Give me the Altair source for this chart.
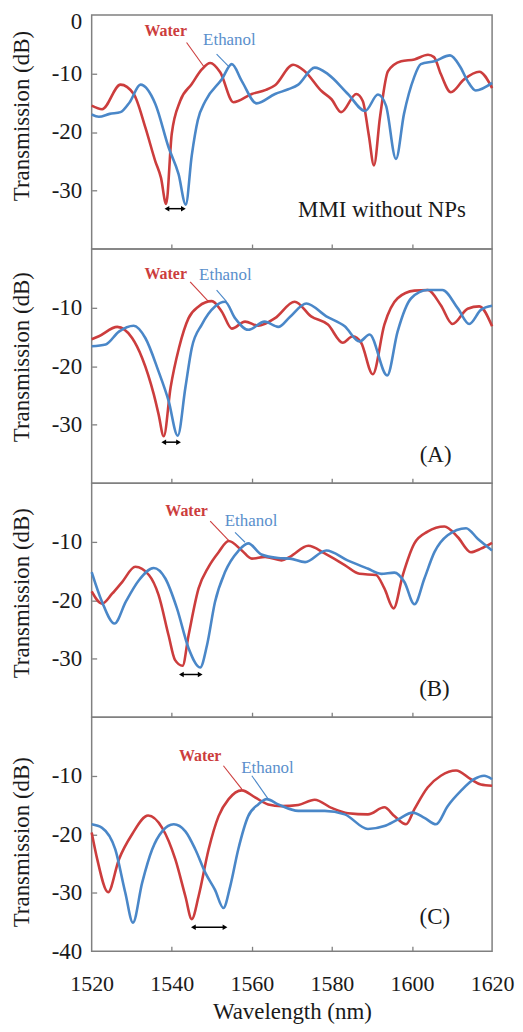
import altair as alt
import pandas as pd

FONT = "Liberation Serif"
RED = "#CC3D3D"
BLUE = "#4A87C8"
ETH_TEXT = "#5A8FCC"
FRAME = "#808080"
INK = "#1a1a1a"

X_LABEL_VALUES = [1520, 1540, 1560, 1580, 1600, 1620]
X_INNER_TICKS = [1540, 1560, 1580, 1600]
Y_INNER_TICKS = [-10, -20, -30]

# ---------------- Panel 1: MMI without NPs ----------------
P1_WATER_X = [1520, 1522.6, 1527.2, 1530.5, 1533.4, 1535.9, 1537.3, 1538.6, 1540.0, 1542.1, 1545.0, 1547.5,
              1549.6, 1552.1, 1555.4, 1560.0, 1563.5, 1565.8, 1570.3, 1573.2, 1577.4, 1579.9, 1582.3, 1586.1,
              1587.7, 1589.2, 1590.5, 1592.0, 1594.0, 1597.3, 1600.6, 1604.0, 1605.5, 1607.2, 1609.7, 1613.0,
              1616.8, 1620]
P1_WATER_Y = [-15.5, -16.1, -11.9, -13.5, -19.2, -25.0, -27.8, -32.3, -20.3, -14.7, -11.8, -9.3,
              -8.2, -9.8, -14.9, -13.5, -12.8, -12.0, -8.5, -9.6, -13.0, -14.4, -16.6, -13.5,
              -14.7, -20.5, -25.7, -17.5, -9.6, -7.9, -7.6, -6.8, -7.2, -10.1, -13.2, -11.0,
              -9.7, -12.5]
P1_ETH_X = [1520, 1521.8, 1524.5, 1527.2, 1529.5, 1532.2, 1535.9, 1539.2, 1541.7, 1543.5, 1545.0, 1546.5,
            1548.4, 1552.5, 1555.0, 1557.5, 1561.2, 1565.8, 1569.1, 1571.6, 1575.7, 1579.0, 1584.0, 1588.3,
            1591.5, 1593.5, 1596.0, 1598.0, 1600.5, 1602.2, 1605.6, 1609.5, 1612.0, 1613.9, 1615.9, 1620]
P1_ETH_Y = [-17.0, -17.4, -16.9, -16.6, -14.9, -11.9, -15.2, -22.6, -27.2, -32.4, -24.0, -18.0,
            -14.7, -11.0, -8.4, -11.3, -15.1, -13.5, -12.7, -11.9, -9.0, -10.1, -13.5, -16.4,
            -13.6, -15.5, -24.6, -16.9, -10.7, -8.4, -7.9, -6.9, -8.8, -11.3, -12.9, -11.6]

# ---------------- Panel 2: (A) ----------------
P2_WATER_X = [1520, 1521.8, 1526.4, 1530.1, 1532.6, 1535.5, 1536.7, 1538.0, 1539.7, 1541.8, 1544.2, 1546.7,
              1550.0, 1552.5, 1555.0, 1558.3, 1561.6, 1565.8, 1570.7, 1574.8, 1579.0, 1582.7, 1585.2, 1587.3,
              1590.2, 1593.1, 1596.4, 1600.6, 1603.9, 1607.2, 1610.1, 1613.9, 1616.8, 1620]
P2_WATER_Y = [-15.4, -14.9, -13.3, -15.2, -18.6, -24.8, -28.2, -32.0, -23.7, -16.9, -11.8, -9.8,
              -8.9, -10.7, -13.6, -12.4, -13.1, -11.8, -9.0, -11.5, -12.9, -16.0, -14.9, -16.0,
              -21.4, -12.9, -8.4, -7.1, -7.0, -9.6, -12.8, -10.2, -9.8, -13.2]
P2_ETH_X = [1520, 1523.5, 1526.8, 1530.5, 1533.4, 1536.7, 1539.2, 1541.5, 1543.4, 1545.0, 1547.5, 1550.8,
            1553.3, 1555.8, 1559.1, 1563.2, 1566.6, 1569.5, 1573.6, 1578.6, 1583.2, 1586.9, 1589.4, 1593.8,
            1596.4, 1599.8, 1603.9, 1607.6, 1611.4, 1614.3, 1617.2, 1620]
P2_ETH_Y = [-16.6, -16.3, -14.1, -13.1, -15.2, -20.9, -25.9, -31.9, -23.7, -16.9, -12.9, -9.8,
            -9.0, -11.8, -13.8, -12.4, -13.3, -11.6, -9.3, -11.5, -13.2, -15.8, -14.6, -21.6,
            -14.1, -8.4, -7.0, -7.0, -10.1, -12.8, -10.4, -9.7]

# ---------------- Panel 3: (B) ----------------
P3_WATER_X = [1520, 1522.6, 1525.1, 1527.6, 1530.9, 1534.3, 1536.7, 1539.2, 1540.8, 1542.7, 1544.2, 1546.7,
              1549.2, 1551.7, 1554.2, 1557.5, 1560.0, 1563.3, 1567.4, 1569.5, 1574.1, 1578.2, 1583.2, 1586.9,
              1591.0, 1593.1, 1595.4, 1597.7, 1600.6, 1603.9, 1608.1, 1611.4, 1614.7, 1617.2, 1620]
P3_WATER_Y = [-18.5, -20.6, -18.9, -16.9, -14.3, -15.7, -19.1, -26.0, -30.2, -31.2, -26.0, -18.0,
              -14.3, -11.8, -9.9, -11.5, -12.9, -12.6, -13.2, -12.6, -10.7, -12.0, -14.0, -15.5,
              -15.7, -18.0, -21.4, -15.7, -10.3, -8.3, -7.4, -9.2, -11.8, -11.2, -10.2]
P3_ETH_X = [1520, 1522.6, 1525.7, 1528.5, 1531.8, 1535.5, 1538.4, 1541.3, 1544.2, 1547.1, 1548.8, 1550.8,
            1553.3, 1556.6, 1559.1, 1562.4, 1566.6, 1569.5, 1573.3, 1578.6, 1583.9, 1588.9, 1592.3, 1595.6,
            1598.1, 1600.6, 1603.1, 1605.6, 1608.9, 1613.5, 1616.4, 1620]
P3_ETH_Y = [-15.2, -20.3, -24.0, -20.3, -16.6, -14.5, -16.3, -21.4, -28.2, -31.5, -27.7, -20.3,
            -15.2, -11.6, -10.3, -12.2, -12.8, -12.9, -13.5, -11.5, -13.2, -14.6, -15.5, -15.3,
            -16.9, -20.7, -16.3, -11.8, -8.9, -7.7, -9.5, -11.5]

# ---------------- Panel 4: (C) ----------------
P4_WATER_X = [1520, 1521.4, 1524.1, 1526.8, 1530.1, 1534.1, 1537.6, 1540.9, 1543.4, 1545.0, 1546.7, 1549.2,
              1551.7, 1554.2, 1557.5, 1560.8, 1564.1, 1567.4, 1571.6, 1575.7, 1579.9, 1584.0, 1589.0, 1593.1,
              1595.6, 1598.5, 1600.6, 1603.9, 1607.2, 1611.0, 1614.7, 1617.2, 1620]
P4_WATER_Y = [-19.7, -24.3, -29.9, -24.3, -20.0, -16.8, -18.9, -24.3, -30.6, -34.5, -30.6, -22.6,
              -16.9, -14.0, -12.5, -13.7, -14.9, -15.2, -15.0, -14.1, -15.5, -16.4, -16.6, -15.4,
              -16.9, -18.3, -15.7, -12.0, -10.0, -9.1, -10.6, -11.5, -11.7]
P4_ETH_X = [1520, 1522.6, 1525.9, 1528.4, 1530.3, 1532.6, 1535.1, 1537.6, 1540.5, 1543.4, 1545.9, 1548.4,
            1550.8, 1552.9, 1554.6, 1556.6, 1559.1, 1561.6, 1563.7, 1566.6, 1571.6, 1578.2, 1583.2, 1589.0,
            1593.1, 1596.4, 1600.2, 1603.1, 1606.0, 1608.9, 1612.2, 1615.5, 1618.0, 1620]
P4_ETH_Y = [-18.3, -18.9, -22.6, -30.0, -35.1, -28.3, -22.6, -19.5, -18.3, -19.5, -22.6, -26.6,
            -29.5, -32.6, -28.9, -22.6, -16.9, -14.9, -14.0, -14.9, -16.0, -16.0, -16.6, -19.1,
            -18.6, -17.5, -16.3, -17.2, -18.3, -15.2, -12.6, -10.6, -10.0, -10.6]

WATER_X = [P1_WATER_X, P2_WATER_X, P3_WATER_X, P4_WATER_X]
WATER_Y = [P1_WATER_Y, P2_WATER_Y, P3_WATER_Y, P4_WATER_Y]
ETH_X = [P1_ETH_X, P2_ETH_X, P3_ETH_X, P4_ETH_X]
ETH_Y = [P1_ETH_Y, P2_ETH_Y, P3_ETH_Y, P4_ETH_Y]

PANEL_Y_LABELS = [[0, -10, -20, -30], [-10, -20, -30], [-10, -20, -30], [-10, -20, -30, -40]]
TITLE_Y = [101, 108, 110, 125]

PANEL_TAGS = ["MMI without NPs", "(A)", "(B)", "(C)"]
TAG_X = [1592.5, 1605.9, 1605.6, 1605.7]
TAG_Y = [-33.4, -35.2, -35.1, -34.1]

WATER_LABEL_X = [1538.5, 1538.5, 1543.7, 1547.1]
WATER_LABEL_Y = [-2.8, -4.2, -4.7, -6.7]
ETH_LABEL_X = [1554.4, 1553.4, 1559.8, 1563.9]
ETH_LABEL_Y = [-4.2, -4.5, -6.4, -8.6]

WATER_LEAD = [(1543.7, -4.7, 1548.0, -8.8), (1544.6, -5.6, 1549.2, -9.0),
              (1549.6, -6.5, 1554.2, -9.8), (1552.9, -8.3, 1557.5, -12.3)]
ETH_LEAD = [(1551.2, -6.7, 1554.2, -8.8), (1551.2, -7.0, 1553.7, -9.0),
            (1555.8, -8.4, 1558.3, -10.1), (1560.0, -10.0, 1564.1, -14.0)]

ARROW_X1 = [1538.8, 1538.0, 1542.4, 1545.4]
ARROW_X2 = [1542.9, 1541.7, 1547.1, 1553.3]
ARROW_Y = [-33.1, -33.0, -32.7, -35.9]

W, H = 402, 235


def build_panel(i):
    last = i == 3
    xs = alt.Scale(domain=[1520, 1620], nice=False, zero=False)
    ys = alt.Scale(domain=[-40, 0], nice=False, zero=False)

    curves = pd.concat([
        pd.DataFrame({"wl": WATER_X[i], "t": WATER_Y[i], "series": "Water"}),
        pd.DataFrame({"wl": ETH_X[i], "t": ETH_Y[i], "series": "Ethanol"}),
    ], ignore_index=True)

    color = alt.Color("series:N",
                      scale=alt.Scale(domain=["Water", "Ethanol"], range=[RED, BLUE]),
                      legend=None)

    if last:
        x_axis = alt.Axis(orient="bottom", values=X_LABEL_VALUES, ticks=False, domain=False, grid=False,
                          labelFont=FONT, labelFontSize=22, labelColor=INK, labelPadding=22,
                          labelFlush=False, labelExpr="datum.value + ''",
                          title="Wavelength (nm)", titleFont=FONT, titleFontSize=23,
                          titleFontWeight="normal", titleColor=INK, titlePadding=6)
    else:
        x_axis = None

    y_axis = alt.Axis(orient="left", values=PANEL_Y_LABELS[i], ticks=False, domain=False, grid=False,
                      labelFont=FONT, labelFontSize=23, labelColor=INK, labelPadding=10,
                      labelFlush=(i == 0), labelFlushOffset=(4 if i == 0 else 0),
                      labelExpr="datum.value + ''",
                      title="Transmission (dB)", titleFont=FONT, titleFontSize=23,
                      titleFontWeight="normal", titleColor=INK, titleX=-70, titleY=TITLE_Y[i],
                      titleAlign="center", titleBaseline="middle", titleAngle=270)

    lines = alt.Chart(curves).mark_line(strokeWidth=2.6, interpolate="monotone").encode(
        x=alt.X("wl:Q", scale=xs, axis=x_axis),
        y=alt.Y("t:Q", scale=ys, axis=y_axis),
        color=color,
    )

    lead_df = pd.DataFrame({
        "x": [WATER_LEAD[i][0], ETH_LEAD[i][0]],
        "y": [WATER_LEAD[i][1], ETH_LEAD[i][1]],
        "x2": [WATER_LEAD[i][2], ETH_LEAD[i][2]],
        "y2": [WATER_LEAD[i][3], ETH_LEAD[i][3]],
        "series": ["Water", "Ethanol"],
    })
    leaders = alt.Chart(lead_df).mark_rule(strokeWidth=1.1).encode(
        x=alt.X("x:Q", scale=xs, axis=None), x2="x2:Q",
        y=alt.Y("y:Q", scale=ys, axis=None), y2="y2:Q",
        color=color,
    )

    water_txt = alt.Chart(pd.DataFrame({"x": [WATER_LABEL_X[i]], "y": [WATER_LABEL_Y[i]], "s": ["Water"]})
                          ).mark_text(font=FONT, fontSize=16, fontWeight="bold", color=RED,
                                      align="center", baseline="middle").encode(
        x=alt.X("x:Q", scale=xs, axis=None), y=alt.Y("y:Q", scale=ys, axis=None), text="s:N")
    eth_txt = alt.Chart(pd.DataFrame({"x": [ETH_LABEL_X[i]], "y": [ETH_LABEL_Y[i]], "s": ["Ethanol"]})
                        ).mark_text(font=FONT, fontSize=17, color=ETH_TEXT,
                                    align="center", baseline="middle").encode(
        x=alt.X("x:Q", scale=xs, axis=None), y=alt.Y("y:Q", scale=ys, axis=None), text="s:N")

    arrow_line = alt.Chart(pd.DataFrame({"x": [ARROW_X1[i]], "x2": [ARROW_X2[i]], "y": [ARROW_Y[i]]})
                           ).mark_rule(color="black", strokeWidth=1.5).encode(
        x=alt.X("x:Q", scale=xs, axis=None), x2="x2:Q", y=alt.Y("y:Q", scale=ys, axis=None))
    heads = alt.Chart(pd.DataFrame({"x": [ARROW_X1[i], ARROW_X2[i]], "y": [ARROW_Y[i]] * 2, "d": ["l", "r"]})
                      ).mark_point(filled=True, size=30, color="black", opacity=1).encode(
        x=alt.X("x:Q", scale=xs, axis=None), y=alt.Y("y:Q", scale=ys, axis=None),
        shape=alt.Shape("d:N", scale=alt.Scale(domain=["l", "r"], range=["triangle-left", "triangle-right"]),
                        legend=None))

    # tag text also carries the inward tick marks
    tag = alt.Chart(pd.DataFrame({"x": [TAG_X[i]], "y": [TAG_Y[i]], "s": [PANEL_TAGS[i]]})
                    ).mark_text(font=FONT, fontSize=23, color=INK, align="center", baseline="middle").encode(
        x=alt.X("x:Q", scale=xs,
                axis=alt.Axis(orient="bottom", values=X_INNER_TICKS, ticks=True, tickSize=5, offset=-5,
                              tickColor=FRAME, tickWidth=1.3, labels=False, domain=False, grid=False,
                              title=None)),
        y=alt.Y("y:Q", scale=ys,
                axis=alt.Axis(orient="left", values=Y_INNER_TICKS, ticks=True, tickSize=5, offset=-5,
                              tickColor=FRAME, tickWidth=1.3, labels=False, domain=False, grid=False,
                              title=None)),
        text="s:N")

    return alt.layer(lines, leaders, water_txt, eth_txt, arrow_line, heads, tag).resolve_axis(
        x="independent", y="independent").properties(width=W, height=H)


chart = alt.vconcat(*[build_panel(i) for i in range(4)], spacing=0, bounds="flush").properties(
    padding={"left": 2, "top": 0, "right": 0, "bottom": 0}
).configure_view(stroke=FRAME, strokeWidth=1.5)

chart.save("out.html", embed_options={"renderer": "svg", "actions": False})
